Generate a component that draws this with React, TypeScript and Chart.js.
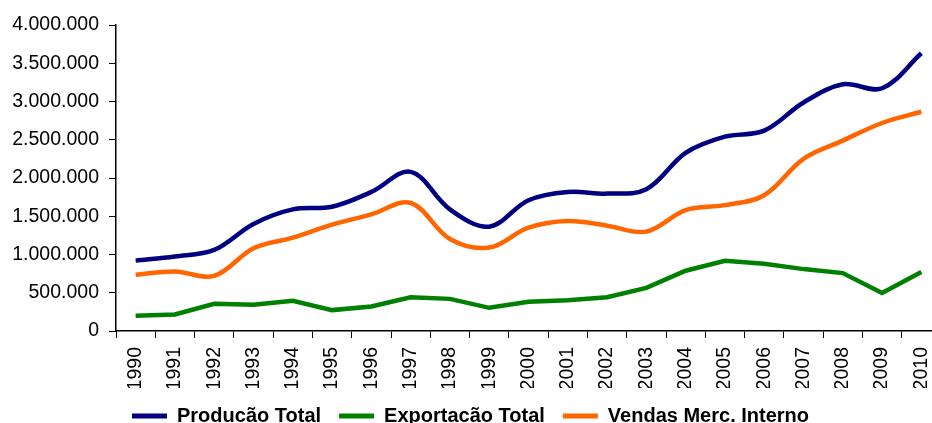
import { useEffect, useRef } from 'react';
import { Chart, registerables } from 'chart.js';

Chart.register(...registerables);

const years = ['1990', '1991', '1992', '1993', '1994', '1995', '1996', '1997', '1998', '1999', '2000', '2001', '2002', '2003', '2004', '2005', '2006', '2007', '2008', '2009', '2010'];

const producaoTotal = [920000, 975000, 1060000, 1400000, 1590000, 1625000, 1818000, 2080000, 1590000, 1364000, 1710000, 1818000, 1796000, 1853000, 2329000, 2540000, 2619000, 2987000, 3225000, 3173000, 3630000];

const exportacaoTotal = [199000, 216000, 355000, 342000, 394000, 273000, 320000, 442000, 420000, 303000, 381000, 403000, 441000, 563000, 788000, 918000, 879000, 809000, 757000, 497000, 770000];

const vendasMercInterno = [736000, 779000, 720000, 1082000, 1221000, 1390000, 1524000, 1675000, 1203000, 1091000, 1350000, 1437000, 1377000, 1299000, 1580000, 1645000, 1775000, 2251000, 2489000, 2719000, 2866000];

const yMin = 0;
const yMax = 4000000;
const yStep = 500000;

const FONT = "'Liberation Sans', Arial, sans-serif";

function fmt(v: number): string {
  return String(Math.round(v)).replace(/\B(?=(\d{3})+(?!\d))/g, '.');
}

export default function App() {
  const ref = useRef<HTMLCanvasElement>(null);

  useEffect(() => {
    const canvas = ref.current;
    if (!canvas) return;
    const chart = new Chart(canvas, {
      type: 'line',
      data: {
        labels: years,
        datasets: [
          {
            label: 'Producão Total',
            data: producaoTotal,
            borderColor: '#000080',
            backgroundColor: '#000080',
            borderWidth: 4.5,
            pointRadius: 0,
            tension: 0.35,
            fill: false,
          },
          {
            label: 'Exportacão Total',
            data: exportacaoTotal,
            borderColor: '#008000',
            backgroundColor: '#008000',
            borderWidth: 4.5,
            pointRadius: 0,
            tension: 0,
            fill: false,
          },
          {
            label: 'Vendas Merc. Interno',
            data: vendasMercInterno,
            borderColor: '#FF6600',
            backgroundColor: '#FF6600',
            borderWidth: 4.5,
            pointRadius: 0,
            tension: 0.35,
            fill: false,
          },
        ],
      },
      options: {
        responsive: false,
        animation: false,
        devicePixelRatio: 1,
        layout: { padding: { top: 25, right: 19, left: 0, bottom: 4 } },
        plugins: {
          tooltip: { enabled: false },
          legend: {
            position: 'bottom',
            labels: {
              boxWidth: 35,
              boxHeight: 5,
              padding: 18,
              color: '#000',
              font: { family: FONT, size: 20, weight: 'bold' },
              generateLabels: (c: any) =>
                (Chart.defaults.plugins.legend.labels.generateLabels as any)(c).map((l: any) => ({
                  ...l,
                  lineWidth: 0,
                  fillStyle: l.strokeStyle,
                })),
            },
          },
        },
        scales: {
          x: {
            type: 'category',
            offset: true,
            grid: {
              display: true,
              offset: true,
              drawOnChartArea: false,
              drawTicks: true,
              tickLength: 7,
              color: '#000',
              lineWidth: 1,
            },
            border: { display: true, color: '#000', width: 1.5 },
            ticks: {
              minRotation: 90,
              maxRotation: 90,
              autoSkip: false,
              padding: 9,
              color: '#000',
              font: { family: FONT, size: 19.5 },
            },
            afterFit: (s: any) => {
              s.height = 57;
            },
          },
          y: {
            min: yMin,
            max: yMax,
            grid: {
              display: true,
              drawOnChartArea: false,
              drawTicks: true,
              tickLength: 7,
              color: '#000',
              lineWidth: 1,
            },
            border: { display: true, color: '#000', width: 1.5 },
            ticks: {
              stepSize: yStep,
              padding: 10,
              color: '#000',
              font: { family: FONT, size: 19.5 },
              callback: (v: any) => fmt(Number(v)),
            },
            afterFit: (s: any) => {
              s.width = 116;
            },
          },
        },
      },
    } as any);
    return () => chart.destroy();
  }, []);

  return (
    <div
      style={{
        position: 'fixed',
        left: 0,
        top: 0,
        width: 932,
        height: 423,
        overflow: 'hidden',
        background: '#fff',
      }}
    >
      <canvas ref={ref} width={960} height={440} style={{ display: 'block' }} />
    </div>
  );
}
